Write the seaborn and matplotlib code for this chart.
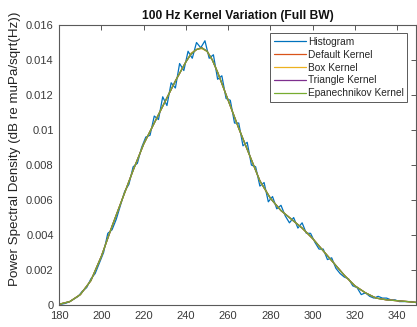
import numpy as np
import pandas as pd
import matplotlib
matplotlib.use("Agg")
import matplotlib.pyplot as plt
import seaborn as sns

# Histogram-based PSD estimate (2 Hz bins)
hist_freq = list(range(181, 350, 2))
hist_psd = [
    0.00005, 0.0001, 0.0002, 0.00035, 0.0005, 0.0008, 0.0010, 0.0015, 0.0018, 0.0024,
    0.0030, 0.0041, 0.0043, 0.0049, 0.0057, 0.0065, 0.0069, 0.0079, 0.0081, 0.0090,
    0.0096, 0.0097, 0.0108, 0.0106, 0.0119, 0.0114, 0.0127, 0.0124, 0.0138, 0.0134,
    0.0145, 0.0141, 0.0150, 0.0147, 0.0151, 0.0141, 0.0143, 0.0129, 0.0131, 0.0118,
    0.0117, 0.0104, 0.0104, 0.0091, 0.0093, 0.0080, 0.0079, 0.0068, 0.0070, 0.0059,
    0.0062, 0.0055, 0.0057, 0.0051, 0.0047, 0.0050, 0.0044, 0.0047, 0.0041, 0.0041,
    0.0036, 0.0032, 0.0032, 0.0026, 0.0027, 0.0021, 0.0018, 0.0016, 0.0015, 0.0011,
    0.0010, 0.0006, 0.0007, 0.0005, 0.0004, 0.0005, 0.0004, 0.0004, 0.0003, 0.0003,
    0.0002, 0.0002, 0.0002, 0.0002, 0.00015,
]

# Kernel density estimates evaluated on a common frequency grid
kde_freq = [180, 185, 190, 195, 200, 205, 210, 215, 220, 225, 230, 235, 240,
            242.5, 245, 247.5, 250, 252.5, 255, 260, 265, 270, 275, 280, 285,
            290, 295, 300, 305, 310, 315, 320, 325, 330, 335, 340, 345, 349]
kde_default = [0.00005, 0.0002, 0.0006, 0.0014, 0.0028, 0.0045, 0.0061, 0.0077,
               0.0092, 0.0104, 0.0116, 0.0128, 0.0139, 0.01435, 0.0146, 0.0147,
               0.0145, 0.0140, 0.0133, 0.0117, 0.0101, 0.0086, 0.0071, 0.0061,
               0.0054, 0.0049, 0.0044, 0.0038, 0.0031, 0.0024, 0.0017, 0.0011,
               0.0007, 0.0004, 0.0003, 0.00025, 0.0002, 0.00015]
kde_box = [0.00005, 0.0002, 0.0006, 0.0014, 0.0028, 0.0045, 0.0061, 0.0077,
           0.0092, 0.0104, 0.0116, 0.0128, 0.0139, 0.0144, 0.0146, 0.01465,
           0.0145, 0.0140, 0.0133, 0.0117, 0.0101, 0.0086, 0.0071, 0.0061,
           0.0054, 0.0049, 0.0044, 0.0038, 0.0031, 0.0024, 0.0017, 0.0011,
           0.0007, 0.0004, 0.0003, 0.00025, 0.0002, 0.00015]
kde_triangle = [0.00005, 0.0002, 0.0006, 0.0014, 0.0028, 0.0045, 0.0061, 0.0077,
                0.0092, 0.0104, 0.0116, 0.0128, 0.0139, 0.01435, 0.0146, 0.0147,
                0.0145, 0.0140, 0.0133, 0.0117, 0.0101, 0.0086, 0.0071, 0.0061,
                0.0054, 0.0049, 0.0044, 0.0038, 0.0031, 0.0024, 0.0017, 0.0011,
                0.0007, 0.0004, 0.0003, 0.00025, 0.0002, 0.00015]
kde_epan = [0.00005, 0.0002, 0.0006, 0.0014, 0.0028, 0.0045, 0.0061, 0.0077,
            0.0092, 0.0104, 0.0116, 0.0128, 0.0139, 0.01435, 0.0146, 0.0147,
            0.0145, 0.0140, 0.0133, 0.0117, 0.0101, 0.0086, 0.0071, 0.0061,
            0.0054, 0.0049, 0.0044, 0.0038, 0.0031, 0.0024, 0.0017, 0.0011,
            0.0007, 0.0004, 0.0003, 0.00025, 0.0002, 0.00015]

series_names = ["Histogram", "Default Kernel", "Box Kernel",
                "Triangle Kernel", "Epanechnikov Kernel"]
series_colors = ["#0072BD", "#D95319", "#EDB120", "#7E2F8E", "#77AC30"]

frames = [pd.DataFrame({"freq": hist_freq, "psd": hist_psd, "series": series_names[0]})]
for name, vals in zip(series_names[1:], [kde_default, kde_box, kde_triangle, kde_epan]):
    frames.append(pd.DataFrame({"freq": kde_freq, "psd": vals, "series": name}))
df = pd.concat(frames, ignore_index=True)

sns.set_style("white")
plt.rcParams["font.family"] = ["Liberation Sans", "DejaVu Sans"]

axis_gray = "#3a3a3a"
fig = plt.figure(figsize=(4.17, 3.27), dpi=100)
ax = fig.add_axes([0.142, 0.067, 0.856, 0.8565])

sns.lineplot(data=df, x="freq", y="psd", hue="series", hue_order=series_names,
             palette=series_colors, linewidth=0.9, ax=ax, sort=False,
             estimator=None)

ax.set_xlim(180, 349)
ax.set_ylim(0, 0.016)
ax.set_xticks(np.arange(180, 341, 20))
ax.set_yticks(np.arange(0, 0.0161, 0.002))
ax.set_yticklabels(["0", "0.002", "0.004", "0.006", "0.008", "0.01",
                    "0.012", "0.014", "0.016"])
ax.tick_params(direction="in", length=3.5, width=0.6, colors=axis_gray,
               labelsize=8, top=True, right=True)
ax.tick_params(axis="x", pad=4)
ax.tick_params(axis="y", pad=4)
for sp in ax.spines.values():
    sp.set_color("#5a5a5a")
    sp.set_linewidth(0.8)

ax.set_xlabel("")
ax.set_title("100 Hz Kernel Variation (Full BW)", fontsize=8.7, fontweight="bold",
             color="#111111", pad=4)
ax.set_ylabel("Power Spectral Density (dB re muPa/sqrt(Hz))", fontsize=9.6,
              color="#222222")
ax.yaxis.set_label_coords(-0.108, 0.557)

leg = ax.legend(loc="upper right", bbox_to_anchor=(0.975, 0.97), fontsize=7.3,
                frameon=True, fancybox=False, handlelength=3.2,
                handletextpad=0.15, labelspacing=0.28, borderpad=0.35,
                borderaxespad=0)
leg.get_frame().set_edgecolor("#303030")
leg.get_frame().set_linewidth(0.7)
for line in leg.get_lines():
    line.set_linewidth(0.9)

fig.savefig("out.png", dpi=100)
